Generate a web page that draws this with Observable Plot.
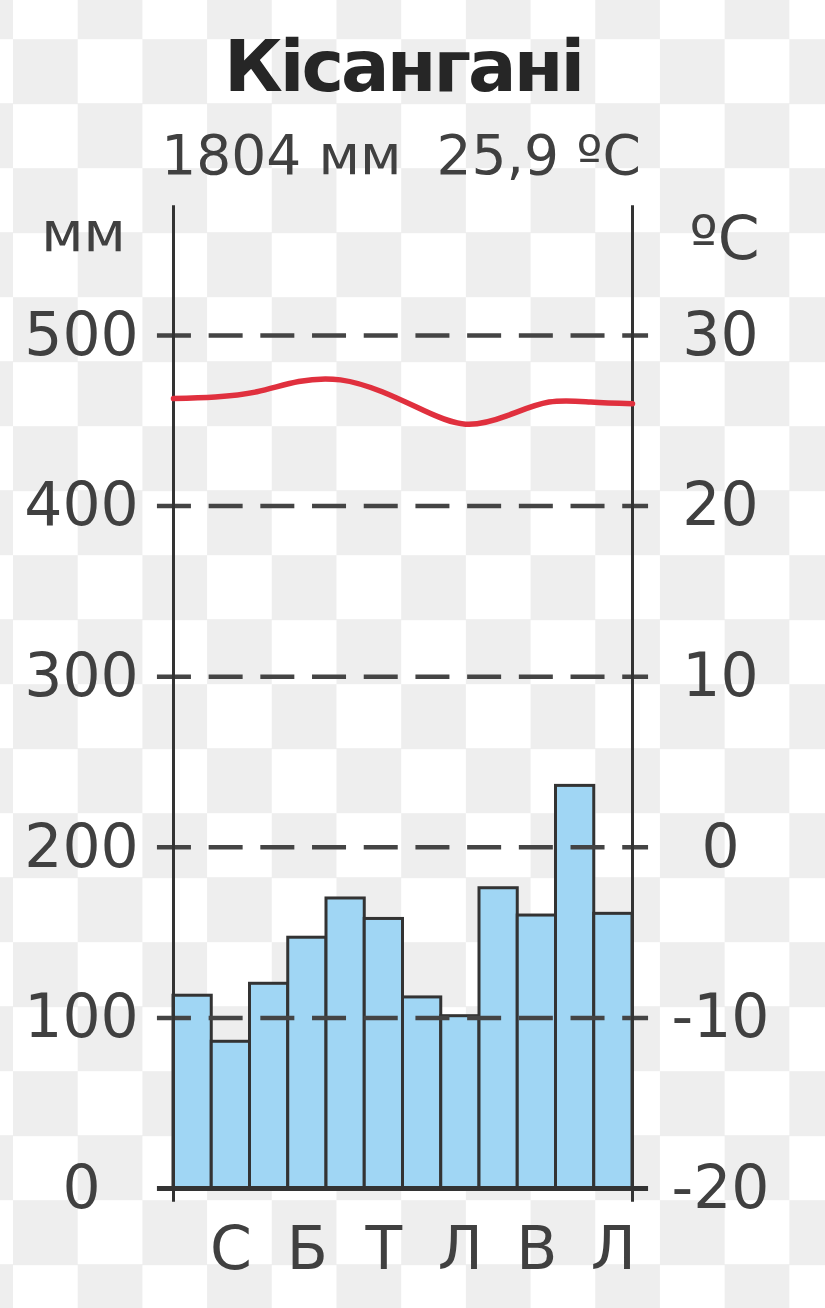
<!DOCTYPE html>
<html>
<head>
<meta charset="utf-8">
<script src="https://cdn.jsdelivr.net/npm/d3@7"></script>
<script src="https://cdn.jsdelivr.net/npm/@observablehq/plot@0.6"></script>
<style>
html, body { margin: 0; padding: 0; }
body {
  width: 825px; height: 1308px; position: relative; overflow: hidden;
  background-color: #fff;
  background-image: conic-gradient(#fff 25%, #eeeeee 0 50%, #fff 0 75%, #eeeeee 0);
  background-size: 129.4px 129px;
  background-position: 13px 39.2px;
  font-family: "DejaVu Sans", sans-serif;
}
#title { position: absolute; left: 0; width: 806px; top: 30px; text-align: center;
  font-size: 72px; line-height: 72px; font-weight: bold; color: #262626; letter-spacing: -3px; }
#sub { position: absolute; left: 0; width: 802px; top: 128px; text-align: center;
  font-size: 55px; line-height: 55px; color: #404040; white-space: pre; }
#chart { position: absolute; left: 0; top: 0; }
</style>
</head>
<body>
<div id="chart"></div>
<div id="title"></div>
<div id="sub"></div>
<script>
// ---- data ----
const station = "Кісангані";
const annualPrecip = "1804 мм";
const annualTemp = "25,9 ºC";
const months = ["грудень","січень","лютий","березень","квітень","травень","червень","липень","серпень","вересень","жовтень","листопад"];
const monthLabels = ["", "С", "", "Б", "", "Т", "", "Л", "", "В", "", "Л"];
const precipitation = [113, 86, 120, 147, 170, 158, 112, 101, 176, 160, 236, 161];
const temperature = [26.3, 26.4, 26.7, 27.3, 27.4, 26.7, 25.6, 24.8, 25.3, 26.1, 26.1, 26.0];
const mmTicks = [0, 100, 200, 300, 400, 500];
const tempTicks = [-20, -10, 0, 10, 20, 30];
const precipUnit = "мм";
const tempUnit = "ºC";

document.getElementById("title").textContent = station;
document.getElementById("sub").textContent = annualPrecip + "  " + annualTemp;

const tempToMm = t => (t + 20) * 10;
const bars = months.map((m, i) => ({i, month: m, p: precipitation[i], label: monthLabels[i]}));
const ink = "#333";
const textColor = "#404040";

const chart = Plot.plot({
  width: 825, height: 1308,
  marginLeft: 173, marginRight: 193, marginTop: 335, marginBottom: 120,
  style: {background: "transparent", fontFamily: "DejaVu Sans, sans-serif", fontSize: "60px", color: textColor},
  x: {domain: [0, 12], axis: null},
  y: {domain: [0, 500], axis: null},
  marks: [
    Plot.rect(bars, {x1: "i", x2: d => d.i + 1, y1: 0, y2: "p", fill: "#a0d6f4", stroke: ink, strokeWidth: 3}),
    Plot.ruleY(mmTicks.filter(v => v > 0), {x1: -0.42, x2: 12.42, stroke: "#444", strokeWidth: 4.5, strokeDasharray: "34 17.7"}),
    Plot.ruleY([0], {x1: -0.42, x2: 12.42, stroke: ink, strokeWidth: 5}),
    Plot.ruleX([0, 12], {y1: -8, y2: 576, stroke: ink, strokeWidth: 3}),
    Plot.line(temperature, {x: (d, i) => i * 12 / 11, y: d => tempToMm(d), curve: "natural", stroke: "#e0303e", strokeWidth: 5.5}),
    Plot.text(mmTicks, {y: d => d, text: d => String(d), frameAnchor: "left", dx: -92, textAnchor: "middle", lineAnchor: "middle", fill: textColor, fontSize: 60}),
    Plot.text(tempTicks, {y: t => tempToMm(t), text: t => String(t), frameAnchor: "right", dx: 88, textAnchor: "middle", lineAnchor: "middle", fill: textColor, fontSize: 60}),
    Plot.text(bars.filter(d => d.label), {x: d => d.i + 0.5, text: "label", frameAnchor: "bottom", dy: 61, lineAnchor: "middle", fill: textColor, fontSize: 60}),
    Plot.text([precipUnit], {text: d => d, frameAnchor: "top-left", dx: -90, dy: -102, textAnchor: "middle", lineAnchor: "middle", fill: textColor, fontSize: 56}),
    Plot.text([tempUnit], {text: d => d, frameAnchor: "top-right", dx: 92, dy: -96, textAnchor: "middle", lineAnchor: "middle", fill: textColor, fontSize: 60})
  ]
});
document.getElementById("chart").appendChild(chart);
</script>
</body>
</html>
